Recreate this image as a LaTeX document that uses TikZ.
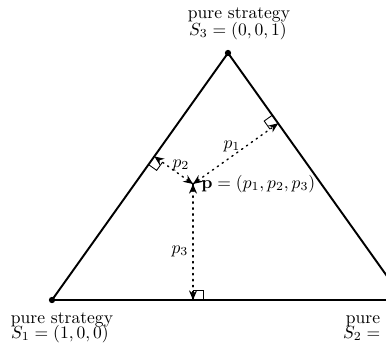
\documentclass[tikz,border=0pt]{standalone}
\usetikzlibrary{calc,arrows.meta}
\begin{document}
\begin{tikzpicture}[x=0.57pt,y=-0.57pt,
  edge/.style={line width=1.1pt},
  vdot/.style={circle,fill=black,inner sep=0pt,minimum size=3.6pt},
  dist/.style={line width=0.8pt,dash pattern=on 0.8pt off 2.6pt,line cap=round},
  tipx/.style={line width=0.6pt,-{Stealth[length=5.5pt,width=4.6pt]}},
  rmark/.style={line width=0.5pt},
  lbl/.style={inner sep=0pt,anchor=base}]
\useasboundingbox (0,0) rectangle (386,354);
\coordinate (A) at (52,300);
\coordinate (B) at (404,300);
\coordinate (C) at (228,53);
\coordinate (P) at (193,184);
% feet
\coordinate (F3) at ($(A)!(P)!(B)$);
\coordinate (F2) at ($(C)!(P)!(A)$);
\coordinate (F1) at ($(B)!(P)!(C)$);
% right-angle marks
\coordinate (a3) at ($(F3)!5.7pt!(B)$);
\coordinate (b3) at ($(F3)!5.7pt!(P)$);
\coordinate (a2) at ($(F2)!5.7pt!(A)$);
\coordinate (b2) at ($(F2)!5.7pt!(P)$);
\coordinate (a1) at ($(F1)!5.7pt!(C)$);
\coordinate (b1) at ($(F1)!5.7pt!(P)$);
\draw[rmark] (a3) -- ($(a3)+(b3)-(F3)$) -- (b3);
\draw[rmark] (a2) -- ($(a2)+(b2)-(F2)$) -- (b2);
\draw[rmark] (a1) -- ($(a1)+(b1)-(F1)$) -- (b1);
% triangle
\draw[edge] (A) -- (B) -- (C) -- cycle;
\node[vdot] (vA) at (A) {};
\node[vdot] (vB) at (B) {};
\node[vdot] (vC) at (C) {};
% distances (dotted) with solid tips at both ends
\foreach \f in {F1,F2,F3}{
  \draw[dist] (P) -- (\f);
  \draw[tipx] ($(\f)!1.5pt!(P)$) -- (\f);
  \draw[tipx] ($(P)!1.5pt!(\f)$) -- (P);
}
\node (l1) at (232,146) {$p_1$};
\node (l2) at (181,165) {$p_2$};
\node (l3) at (180,251) {$p_3$};
\node[lbl,anchor=base west] (pl) at (201,188) {$\mathbf{p}=(p_1,p_2,p_3)$};
% vertex labels
\node[lbl] (s3a) at (239,18) {pure strategy};
\node[lbl] (s3b) at (238,35) {$S_3=(0,0,1)$};
\node[lbl] (s1a) at (62,323) {pure strategy};
\node[lbl] (s1b) at (60,338) {$S_1=(1,0,0)$};
\node[lbl] (s2a) at (397,323) {pure strategy};
\node[lbl] (s2b) at (392,338) {$S_2=(0,1,0)$};
\end{tikzpicture}
\end{document}
